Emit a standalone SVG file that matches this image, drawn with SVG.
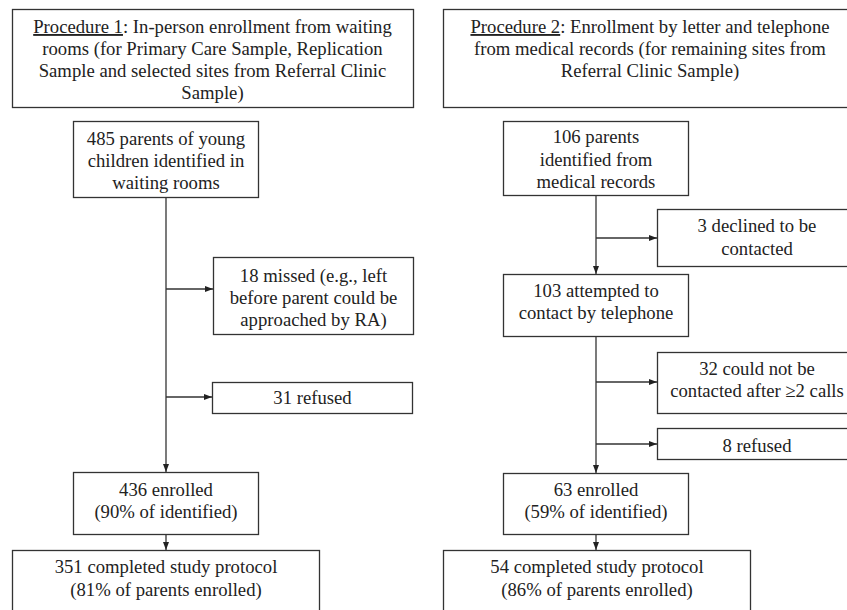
<svg xmlns="http://www.w3.org/2000/svg" width="847" height="610" viewBox="0 0 847 610">
<defs>
<marker id="ah" markerUnits="userSpaceOnUse" markerWidth="9" markerHeight="7" refX="8" refY="3" orient="auto">
<path d="M0,0 L8,3 L0,6 z" fill="#222"/>
</marker>
<style>
rect{fill:#fff;stroke:#333;stroke-width:1.3}
text{font-size:18.7px;fill:#222;text-anchor:middle}
.c line,.c path{stroke:#333;stroke-width:1.3;fill:none}
.u{text-decoration:underline}
</style>
</defs>
<rect width="847" height="610" style="fill:#fff;stroke:none"/>
<g font-family="Liberation Serif, Tinos, Times New Roman, DejaVu Serif, serif">
<g id="proc1">
<rect x="12.5" y="9.5" width="401" height="98"/>
<text x="212.5" y="33"><tspan class="u">Procedure 1</tspan>: In-person enrollment from waiting</text>
<text x="212.5" y="55">rooms (for Primary Care Sample, Replication</text>
<text x="212.5" y="77">Sample and selected sites from Referral Clinic</text>
<text x="212.5" y="99">Sample)</text>
</g>
<g id="proc2">
<rect x="443.5" y="9.5" width="420" height="98"/>
<text x="650" y="33"><tspan class="u">Procedure 2</tspan>: Enrollment by letter and telephone</text>
<text x="650" y="55">from medical records (for remaining sites from</text>
<text x="650" y="77">Referral Clinic Sample)</text>
</g>
<g id="n485">
<rect x="73.5" y="121.5" width="185" height="76"/>
<text x="166" y="145">485 parents of young</text>
<text x="166" y="167">children identified in</text>
<text x="166" y="189">waiting rooms</text>
</g>
<g id="n18">
<rect x="213.5" y="257.5" width="200" height="77"/>
<text x="313.5" y="282">18 missed (e.g., left</text>
<text x="313.5" y="304">before parent could be</text>
<text x="313.5" y="326">approached by RA)</text>
</g>
<g id="n31">
<rect x="212.5" y="382.5" width="200" height="31"/>
<text x="312.5" y="404">31 refused</text>
</g>
<g id="n436">
<rect x="73.5" y="472.5" width="185" height="62"/>
<text x="166" y="496">436 enrolled</text>
<text x="166" y="518">(90% of identified)</text>
</g>
<g id="n351">
<rect x="12.5" y="550.5" width="307" height="80"/>
<text x="166" y="573">351 completed study protocol</text>
<text x="166" y="596">(81% of parents enrolled)</text>
</g>
<g id="n106">
<rect x="503.5" y="121.5" width="185" height="74"/>
<text x="596" y="143">106 parents</text>
<text x="596" y="166">identified from</text>
<text x="596" y="188">medical records</text>
</g>
<g id="n3">
<rect x="657.5" y="209.5" width="210" height="57"/>
<text x="757" y="232">3 declined to be</text>
<text x="757" y="255">contacted</text>
</g>
<g id="n103">
<rect x="503.5" y="274.5" width="185" height="62"/>
<text x="596" y="297">103 attempted to</text>
<text x="596" y="319">contact by telephone</text>
</g>
<g id="n32">
<rect x="657.5" y="352.5" width="210" height="61"/>
<text x="757" y="375">32 could not be</text>
<text x="757" y="397">contacted after ≥2 calls</text>
</g>
<g id="n8">
<rect x="657.5" y="428.5" width="210" height="31"/>
<text x="757" y="452">8 refused</text>
</g>
<g id="n63">
<rect x="503.5" y="473.5" width="185" height="61"/>
<text x="596" y="496">63 enrolled</text>
<text x="596" y="518">(59% of identified)</text>
</g>
<g id="n54">
<rect x="443.5" y="550.5" width="307" height="80"/>
<text x="597" y="573">54 completed study protocol</text>
<text x="597" y="596">(86% of parents enrolled)</text>
</g>
</g>
<g class="c" id="connectors">
<line x1="166" y1="198" x2="166" y2="472" marker-end="url(#ah)"/>
<line x1="166" y1="289" x2="213" y2="289" marker-end="url(#ah)"/>
<line x1="166" y1="397" x2="212" y2="397" marker-end="url(#ah)"/>
<line x1="166" y1="535" x2="166" y2="550" marker-end="url(#ah)"/>
<line x1="596" y1="196" x2="596" y2="274" marker-end="url(#ah)"/>
<line x1="596" y1="238" x2="657" y2="238" marker-end="url(#ah)"/>
<line x1="596" y1="337" x2="596" y2="473" marker-end="url(#ah)"/>
<line x1="596" y1="382" x2="657" y2="382" marker-end="url(#ah)"/>
<line x1="596" y1="444" x2="657" y2="444" marker-end="url(#ah)"/>
<line x1="596" y1="535" x2="596" y2="550" marker-end="url(#ah)"/>
</g>
</svg>
